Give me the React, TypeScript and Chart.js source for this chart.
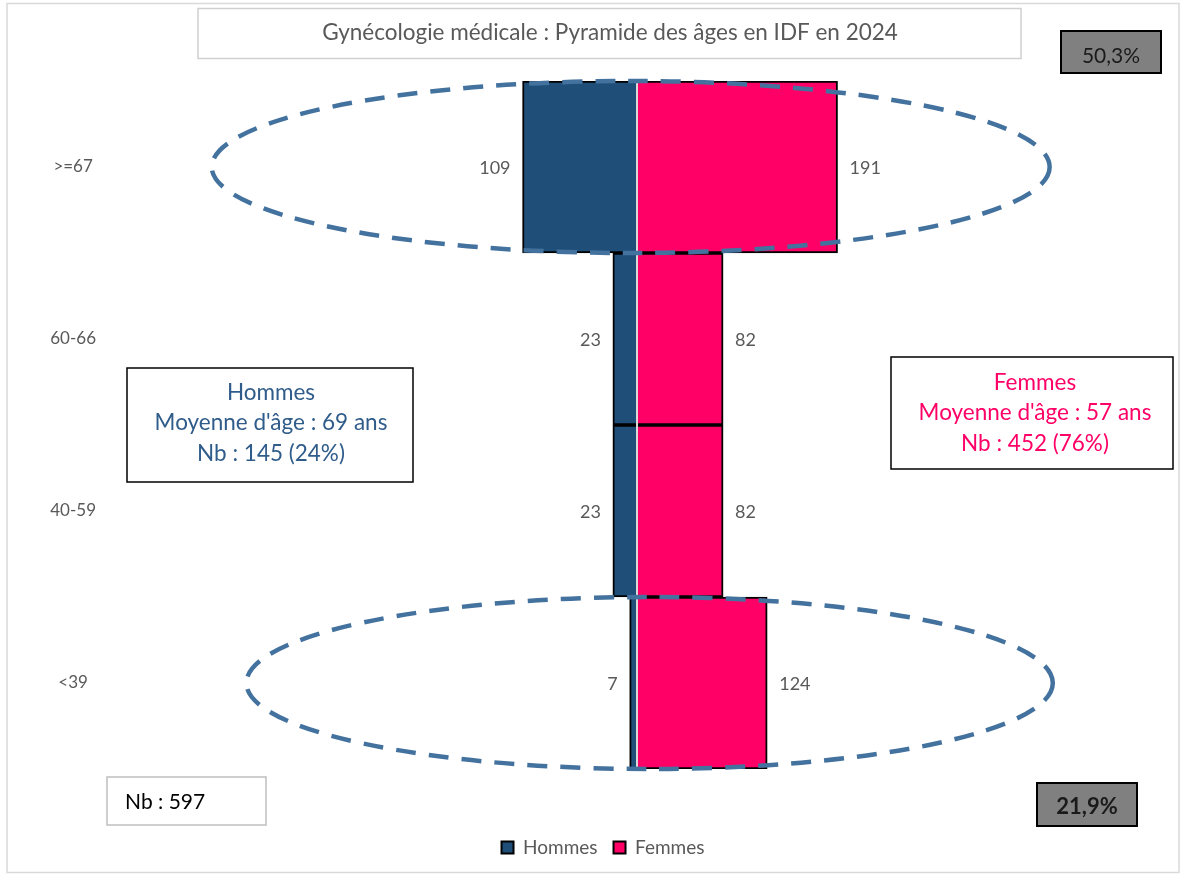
import React, { useEffect, useRef } from "react";
import { Chart, registerables } from "chart.js";

Chart.register(...registerables);

const categories = [">=67", "60-66", "40-59", "<39"];
const hommes = [109, 23, 23, 7];
const femmes = [191, 82, 82, 124];
const seriesNames = ["Hommes", "Femmes"];
const titleText = "Gynécologie médicale : Pyramide des âges en IDF en 2024";
const hommesInfo = ["Hommes", "Moyenne d'âge : 69 ans", "Nb : 145 (24%)"];
const femmesInfo = ["Femmes", "Moyenne d'âge : 57 ans", "Nb : 452 (76%)"];
const totalText = "Nb : 597";
const topShare = "50,3%";
const bottomShare = "21,9%";
// highlighted age groups (dashed ellipses), in data units
const highlightCategories = [0, 3];
const highlightCenters = [-6, 12];
const highlightRadii = [399, 384];

const FONT = "Lato, 'Open Sans', sans-serif";
const BLUE = "#1F4E79";
const PINK = "#FF0066";

const overlay = {
  id: "overlay",
  afterDatasetsDraw(chart: any) {
    const { ctx, chartArea, scales } = chart;
    const xs = scales.x;
    const ys = scales.y;
    ctx.save();
    // zero line
    const x0 = xs.getPixelForValue(0);
    ctx.strokeStyle = "#D9D9D9";
    ctx.lineWidth = 2;
    ctx.beginPath();
    ctx.moveTo(x0, chartArea.top);
    ctx.lineTo(x0, chartArea.bottom);
    ctx.stroke();
    // data labels
    ctx.font = `18px ${FONT}`;
    ctx.fillStyle = "#595959";
    ctx.textBaseline = "middle";
    chart.getDatasetMeta(0).data.forEach((bar: any, i: number) => {
      ctx.textAlign = "right";
      ctx.fillText(String(hommes[i]), bar.x - 12, bar.y + 1);
    });
    chart.getDatasetMeta(1).data.forEach((bar: any, i: number) => {
      ctx.textAlign = "left";
      ctx.fillText(String(femmes[i]), bar.x + 12, bar.y + 1);
    });
    // ellipses
    const band = ys.getPixelForValue(1) - ys.getPixelForValue(0);
    highlightCategories.forEach((c, k) => {
      const cx = xs.getPixelForValue(highlightCenters[k]);
      const rx = xs.getPixelForValue(highlightCenters[k] + highlightRadii[k]) - cx;
      const cy = ys.getPixelForValue(c);
      ctx.setLineDash([20, 13]);
      ctx.lineWidth = 4.5;
      ctx.strokeStyle = "#44729F";
      ctx.beginPath();
      ctx.ellipse(cx, cy, rx, Math.abs(band) / 2, 0, 0, Math.PI * 2);
      ctx.stroke();
    });
    ctx.restore();
  },
  afterDraw(chart: any) {
    const { ctx } = chart;
    ctx.save();
    // outer frame
    ctx.strokeStyle = "#D9D9D9";
    ctx.lineWidth = 1.5;
    ctx.strokeRect(7, 3.5, 1172, 869);
    // title box
    ctx.strokeStyle = "#D0D0D0";
    ctx.lineWidth = 1.5;
    ctx.strokeRect(198, 8.5, 823, 50);
    ctx.fillStyle = "#595959";
    ctx.font = `22.5px ${FONT}`;
    ctx.textAlign = "center";
    ctx.textBaseline = "middle";
    ctx.fillText(titleText, 610, 33);
    // share boxes
    ctx.fillStyle = "#808080";
    ctx.fillRect(1061, 31, 100, 42);
    ctx.strokeStyle = "#000";
    ctx.lineWidth = 2;
    ctx.strokeRect(1061, 31, 100, 42);
    ctx.fillStyle = "#1a1a1a";
    ctx.font = `21px ${FONT}`;
    ctx.fillText(topShare, 1111, 56);
    ctx.fillStyle = "#808080";
    ctx.fillRect(1037, 783, 100, 43);
    ctx.strokeRect(1037, 783, 100, 43);
    ctx.fillStyle = "#1a1a1a";
    ctx.font = `bold 22px ${FONT}`;
    ctx.fillText(bottomShare, 1087, 807);
    // total box
    ctx.fillStyle = "#fff";
    ctx.fillRect(107, 777, 159, 48);
    ctx.strokeStyle = "#BFBFBF";
    ctx.lineWidth = 1.5;
    ctx.strokeRect(107, 777, 159, 48);
    ctx.fillStyle = "#000";
    ctx.font = `21px ${FONT}`;
    ctx.textAlign = "left";
    ctx.fillText(totalText, 125, 802);
    // info boxes
    const drawInfo = (lines: string[], x: number, y: number, w: number, h: number, color: string, cx: number, lineYs: number[]) => {
      ctx.fillStyle = "#fff";
      ctx.fillRect(x, y, w, h);
      ctx.strokeStyle = "#000";
      ctx.lineWidth = 1.5;
      ctx.strokeRect(x, y, w, h);
      ctx.fillStyle = color;
      ctx.font = `22.5px ${FONT}`;
      ctx.textAlign = "center";
      lines.forEach((t, i) => ctx.fillText(t, cx, lineYs[i]));
    };
    drawInfo(hommesInfo, 127, 368, 286, 114, "#2F5C8A", 271, [393, 423, 454]);
    drawInfo(femmesInfo, 891, 357, 282, 112, PINK, 1035, [383, 413, 444]);
    ctx.restore();
  },
};

export default function App() {
  const ref = useRef<HTMLCanvasElement>(null);
  useEffect(() => {
    if (!ref.current) return;
    const chart = new Chart(ref.current, {
      type: "bar",
      data: {
        labels: categories,
        datasets: [
          {
            label: seriesNames[0],
            data: hommes.map((v) => -v),
            backgroundColor: BLUE,
            borderColor: "#000",
            borderWidth: 2,
            borderSkipped: "start",
            barPercentage: 1,
            categoryPercentage: 1,
          },
          {
            label: seriesNames[1],
            data: femmes,
            backgroundColor: PINK,
            borderColor: "#000",
            borderWidth: 2,
            borderSkipped: "start",
            barPercentage: 1,
            categoryPercentage: 1,
          },
        ],
      },
      options: {
        indexAxis: "y",
        responsive: false,
        animation: false,
        devicePixelRatio: 1,
        layout: { padding: { top: 81, right: 21, bottom: 9, left: 44 } },
        scales: {
          x: {
            stacked: true,
            min: -500,
            max: 500,
            ticks: { display: false },
            grid: { display: false, drawTicks: false },
            border: { display: false },
            afterFit: (s: any) => {
              s.height = 53;
            },
          },
          y: {
            stacked: true,
            ticks: {
              color: "#595959",
              font: { family: FONT, size: 17 },
              crossAlign: "center",
              padding: 16,
            },
            grid: { display: false, drawTicks: false },
            border: { display: false },
            afterFit: (s: any) => {
              s.width = 68;
            },
          },
        },
        plugins: {
          tooltip: { enabled: false },
          legend: {
            position: "bottom",
            labels: {
              boxWidth: 12,
              boxHeight: 12,
              padding: 16,
              color: "#595959",
              font: { family: FONT, size: 19 },
            },
          },
        },
      },
      plugins: [overlay],
    });
    return () => chart.destroy();
  }, []);
  return (
    <div style={{ position: "absolute", left: 0, top: 0, width: 1183, height: 876, background: "#fff" }}>
      <canvas ref={ref} width={1183} height={876} style={{ display: "block" }} />
    </div>
  );
}
